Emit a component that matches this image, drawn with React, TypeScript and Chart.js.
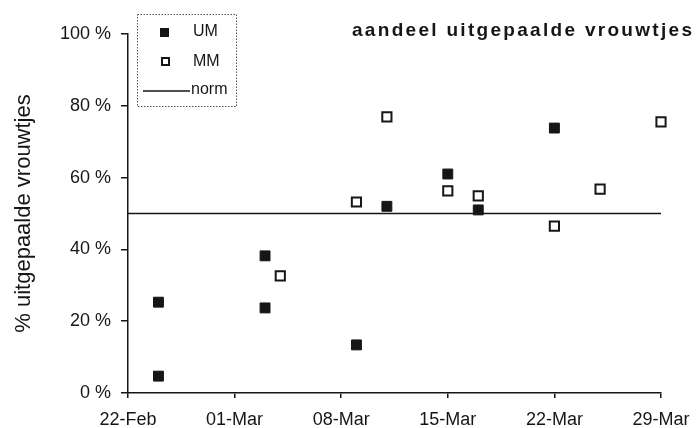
import React, { useEffect, useRef } from "react";
import { Chart, registerables } from "chart.js";

Chart.register(...registerables);

// days since 22-Feb
const xTickLabels = ["22-Feb", "01-Mar", "08-Mar", "15-Mar", "22-Mar", "29-Mar"];
const umDays = [2, 2, 9, 9, 15, 17, 21, 23, 28];
const umValues = [4.7, 25.3, 38.2, 23.7, 13.4, 52, 61, 51, 73.8];
const mmDays = [10, 15, 17, 21, 23, 28, 31, 35];
const mmValues = [32.6, 53.2, 76.9, 56.3, 54.9, 46.5, 56.8, 75.5];
const normDays = [0, 35];
const normValues = [50, 50];
const yTicks = [0, 20, 40, 60, 80, 100];

const titleText = "aandeel uitgepaalde vrouwtjes";
const yTitle = "% uitgepaalde vrouwtjes";
const legendLabels = ["UM", "MM", "norm"];

const INK = "#161616";
const FONT = "'Liberation Sans', Arial, sans-serif";

const overlayPlugin = {
  id: "overlay",
  afterDraw(chart: any) {
    const ctx = chart.ctx as CanvasRenderingContext2D;
    ctx.save();
    // title
    ctx.fillStyle = INK;
    ctx.font = `bold 19px ${FONT}`;
    (ctx as any).letterSpacing = "2.3px";
    ctx.textAlign = "left";
    ctx.textBaseline = "alphabetic";
    ctx.fillText(titleText, 352, 36);
    (ctx as any).letterSpacing = "0px";

    // legend box
    ctx.setLineDash([1.5, 1.5]);
    ctx.strokeStyle = "#555";
    ctx.lineWidth = 1;
    ctx.strokeRect(137.5, 14.5, 99, 92);
    ctx.setLineDash([]);

    ctx.font = `16px ${FONT}`;
    ctx.textAlign = "left";
    ctx.textBaseline = "middle";
    // UM
    ctx.fillStyle = INK;
    ctx.fillRect(160, 28, 9, 9);
    ctx.fillText(legendLabels[0], 193, 32);
    // MM
    ctx.strokeStyle = INK;
    ctx.lineWidth = 2;
    ctx.strokeRect(162, 58, 7, 7);
    ctx.fillText(legendLabels[1], 193, 62);
    // norm
    ctx.lineWidth = 1.6;
    ctx.beginPath();
    ctx.moveTo(143, 91);
    ctx.lineTo(190, 91);
    ctx.stroke();
    ctx.fillText(legendLabels[2], 191, 90);
    ctx.restore();
  },
};

export default function App() {
  const ref = useRef<HTMLCanvasElement>(null);
  useEffect(() => {
    if (!ref.current) return;
    const chart = new Chart(ref.current, {
      type: "scatter",
      data: {
        datasets: [
          {
            label: "norm",
            type: "line",
            data: normDays.map((d, i) => ({ x: d, y: normValues[i] })),
            borderColor: INK,
            borderWidth: 1.6,
            pointRadius: 0,
            order: 3,
            clip: false,
          } as any,
          {
            label: "UM",
            data: umDays.map((d, i) => ({ x: d, y: umValues[i] })),
            pointStyle: "rect",
            pointRadius: 7,
            backgroundColor: INK,
            borderColor: INK,
            borderWidth: 1,
            order: 1,
            clip: false,
          },
          {
            label: "MM",
            data: mmDays.map((d, i) => ({ x: d, y: mmValues[i] })),
            pointStyle: "rect",
            pointRadius: 6.5,
            backgroundColor: "#fff",
            borderColor: INK,
            borderWidth: 2,
            order: 2,
            clip: false,
          },
        ],
      },
      options: {
        animation: false,
        responsive: true,
        maintainAspectRatio: false,
        layout: { padding: { left: 0, top: 34, right: 35, bottom: 0 } },
        plugins: {
          legend: { display: false },
          tooltip: { enabled: false },
          title: { display: false },
        },
        scales: {
          x: {
            type: "linear",
            min: 0,
            max: 35,
            afterFit: (s: any) => {
              s.height = 35;
              s.paddingLeft = 0;
              s.paddingRight = 0;
            },
            afterBuildTicks: (s: any) => {
              s.ticks = xTickLabels.map((_, i) => ({ value: i * 7 }));
            },
            ticks: {
              callback: (v: any) => xTickLabels[Math.round(Number(v) / 7)] ?? "",
              color: INK,
              font: { family: FONT, size: 18 },
              padding: 11,
              maxRotation: 0,
              autoSkip: false,
            },
            grid: { drawOnChartArea: false, drawTicks: true, tickLength: 5, color: INK, lineWidth: 1.5 },
            border: { color: INK, width: 1.5 },
          },
          y: {
            min: 0,
            max: 100,
            afterFit: (s: any) => {
              s.width = 128;
              s.paddingTop = 0;
              s.paddingBottom = 0;
            },
            afterBuildTicks: (s: any) => {
              s.ticks = yTicks.map((v) => ({ value: v }));
            },
            ticks: {
              callback: (v: any) => `${v} %`,
              color: INK,
              font: { family: FONT, size: 18 },
              padding: 10,
            },
            grid: { drawOnChartArea: false, drawTicks: true, tickLength: 7, color: INK, lineWidth: 1.5 },
            border: { color: INK, width: 1.5 },
            title: {
              display: true,
              text: yTitle,
              color: INK,
              font: { family: FONT, size: 22 },
              padding: { top: 11, bottom: 0 },
            },
          },
        },
      },
      plugins: [overlayPlugin],
    });
    return () => chart.destroy();
  }, []);
  return (
    <div style={{ position: "fixed", left: 0, top: 0, width: 696, height: 428, background: "#fff" }}>
      <canvas ref={ref} />
    </div>
  );
}
